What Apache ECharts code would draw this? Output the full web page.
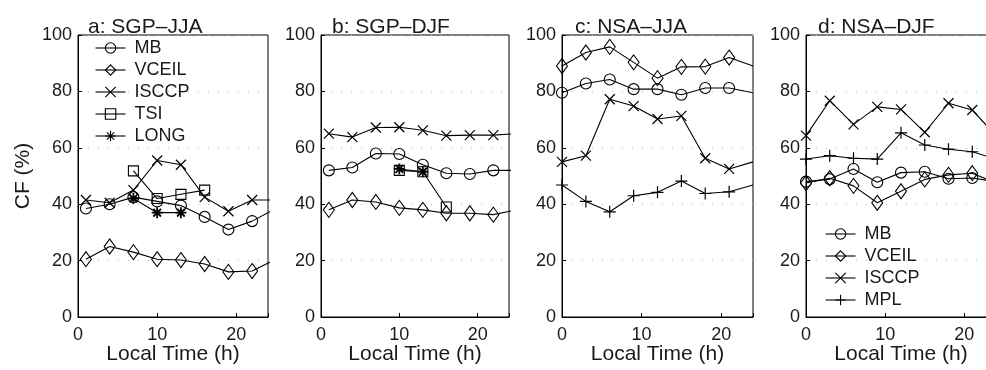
<!DOCTYPE html>
<html>
<head>
<meta charset="utf-8">
<script src="https://cdn.jsdelivr.net/npm/echarts@6/dist/echarts.min.js"></script>
<style>html,body{margin:0;padding:0;background:#fff}#c{width:986px;height:370px}</style>
</head>
<body>
<div id="c"></div>
<script>
// ---- data ----
const hoursSGP = [1, 4, 7, 10, 13, 16, 19, 22];
const hoursNSA = [0, 3, 6, 9, 12, 15, 18, 21];
const xTicks = [0, 10, 20];
const yTicks = [0, 20, 40, 60, 80, 100];
const panelTitles = ['a: SGP\u2013JJA', 'b: SGP\u2013DJF', 'c: NSA\u2013JJA', 'd: NSA\u2013DJF'];

const a_MB    = [38.5, 40, 42.5, 41, 39.5, 35.5, 31, 34];
const a_VCEIL = [20.5, 25, 23, 20.5, 20.2, 18.8, 16, 16.3];
const a_ISCCP = [41.5, 40.5, 45, 55.5, 54, 42.5, 37.5, 41.5];
const a_TSI_h = [7, 10, 13, 16];
const a_TSI   = [51.8, 42, 43.5, 45];
const a_LONG_h = [7, 10, 13];
const a_LONG  = [42, 37, 37];

const b_MB    = [52, 53, 58, 57.8, 54, 51, 50.7, 52];
const b_VCEIL = [38, 41.5, 40.8, 38.7, 38, 36.8, 36.8, 36.3];
const b_ISCCP = [65, 63.8, 67.2, 67.3, 66.2, 64.3, 64.5, 64.5];
const b_TSI_h = [10, 13, 16];
const b_TSI   = [52, 51.5, 39];
const b_LONG_h = [10, 13];
const b_LONG  = [52.5, 51.5];

const c_MB    = [79.5, 82.8, 84.2, 80.8, 80.8, 78.8, 81.2, 81.2];
const c_VCEIL = [89, 93.8, 95.8, 90.3, 84.7, 88.7, 88.8, 92];
const c_ISCCP = [55, 57.2, 77.2, 74.8, 70.2, 71.3, 56.3, 52.5];
const c_MPL   = [46.8, 41, 37.3, 43, 44.2, 48.2, 43.8, 44.4];

const d_MB    = [48, 48.9, 52.5, 47.8, 51.2, 51.5, 49, 49.3];
const d_VCEIL = [47.5, 49.2, 46.5, 40.5, 44.6, 48.8, 50.4, 51];
const d_ISCCP = [64.3, 76.7, 68.3, 74.5, 73.6, 65.5, 75.8, 73.4];
const d_MPL   = [56, 57.2, 56.3, 56, 65.3, 61, 59.5, 58.6];

// ---- styles ----
const FONT = '"Liberation Sans", Arial, Helvetica, sans-serif';
const TXT = '#1a1a1a';
const SYM = {
  MB: {symbol: 'circle', size: 11, bw: 1.1},
  VCEIL: {symbol: 'diamond', size: [11, 15], bw: 1.1},
  ISCCP: {symbol: 'path://M0,0 L100,100 M100,0 L0,100', size: 10, bw: 1.2},
  TSI: {symbol: 'rect', size: 10, bw: 1.1},
  LONG: {symbol: 'path://M50,0 L50,100 M0,50 L100,50 M15,15 L85,85 M85,15 L15,85', size: 11, bw: 1.8},
  MPL: {symbol: 'path://M50,0 L50,100 M0,50 L100,50', size: 12, bw: 1.2}
};

function pts(hours, vals, period) {
  const d = hours.map((h, i) => [h, vals[i]]);
  if (period) d.push({value: [hours[0] + period, vals[0]], symbol: 'none'});
  return d;
}
function mk(name, idx, data) {
  const s = SYM[name];
  return {
    type: 'line', name: name, xAxisIndex: idx, yAxisIndex: idx, data: data,
    symbol: s.symbol, symbolSize: s.size, showAllSymbol: true, clip: true,
    lineStyle: {color: '#000', width: 1.1},
    itemStyle: {color: 'transparent', borderColor: '#000', borderWidth: s.bw},
    emphasis: {disabled: true}, silent: true, z: 3
  };
}

const series = [
  mk('MB', 0, pts(hoursSGP, a_MB, 24)),
  mk('VCEIL', 0, pts(hoursSGP, a_VCEIL, 24)),
  mk('ISCCP', 0, pts(hoursSGP, a_ISCCP, 24)),
  mk('TSI', 0, pts(a_TSI_h, a_TSI)),
  mk('LONG', 0, pts(a_LONG_h, a_LONG)),
  mk('MB', 1, pts(hoursSGP, b_MB, 24)),
  mk('VCEIL', 1, pts(hoursSGP, b_VCEIL, 24)),
  mk('ISCCP', 1, pts(hoursSGP, b_ISCCP, 24)),
  mk('TSI', 1, pts(b_TSI_h, b_TSI)),
  mk('LONG', 1, pts(b_LONG_h, b_LONG)),
  mk('MB', 2, pts(hoursNSA, c_MB, 24)),
  mk('VCEIL', 2, pts(hoursNSA, c_VCEIL, 24)),
  mk('ISCCP', 2, pts(hoursNSA, c_ISCCP, 24)),
  mk('MPL', 2, pts(hoursNSA, c_MPL, 24)),
  mk('MB', 3, pts(hoursNSA, d_MB, 24)),
  mk('VCEIL', 3, pts(hoursNSA, d_VCEIL, 24)),
  mk('ISCCP', 3, pts(hoursNSA, d_ISCCP, 24)),
  mk('MPL', 3, pts(hoursNSA, d_MPL, 24))
];

const gridPos = [
  {left: 78, width: 190}, {left: 321, width: 188}, {left: 562, width: 191}, {left: 806, width: 190}
];
const grids = gridPos.map(g => ({
  left: g.left, width: g.width, top: 35, height: 282, containLabel: false,
  outerBoundsMode: 'none',
  show: true, borderColor: '#000', borderWidth: 1, backgroundColor: 'transparent'
}));

const xAxes = gridPos.map((g, i) => ({
  type: 'value', gridIndex: i, min: 0, max: 24, interval: 10,
  name: 'Local Time (h)', nameLocation: 'middle', nameGap: 27, nameMoveOverlap: false,
  nameTextStyle: {fontFamily: FONT, fontSize: 21, color: TXT},
  axisLine: {show: true, lineStyle: {color: '#000', width: 1}},
  axisTick: {show: true, inside: true, length: 4, lineStyle: {color: '#000'}},
  axisLabel: {fontFamily: FONT, fontSize: 18, color: TXT, margin: 9,
    formatter: v => (xTicks.indexOf(v) >= 0 ? String(v) : '')},
  splitLine: {show: false}
}));
const yAxes = gridPos.map((g, i) => ({
  type: 'value', gridIndex: i, min: 0, max: 100, interval: 20,
  name: i === 0 ? 'CF (%)' : '', nameLocation: 'middle', nameGap: 44, nameMoveOverlap: false,
  nameTextStyle: {fontFamily: FONT, fontSize: 21, color: TXT},
  axisLine: {show: true, lineStyle: {color: '#000', width: 1}},
  axisTick: {show: true, inside: true, length: 4, lineStyle: {color: '#000'}},
  axisLabel: {fontFamily: FONT, fontSize: 18, color: TXT, margin: 6,
    formatter: v => (yTicks.indexOf(v) >= 0 ? String(v) : '')},
  splitLine: {show: true, lineStyle: {color: '#b5b5b5', width: 1, type: [1, 9]}}
}));

const titles = panelTitles.map((t, i) => ({
  text: t, left: [83, 327, 570, 813][i], top: 12,
  textStyle: {fontFamily: FONT, fontSize: 21, fontWeight: 'normal', color: TXT}
}));

const legendCommon = {
  orient: 'vertical', itemWidth: 30, itemHeight: 13, itemGap: 4, padding: 0,
  selectedMode: false,
  textStyle: {fontFamily: FONT, fontSize: 18, color: TXT, padding: [0, 0, 0, 4], lineHeight: 18},
  itemStyle: {borderWidth: 1.1},
  lineStyle: {width: 1.1}
};
const legends = [
  Object.assign({}, legendCommon, {left: 95, top: 39, data: ['MB', 'VCEIL', 'ISCCP', 'TSI', 'LONG']}),
  Object.assign({}, legendCommon, {left: 825, top: 225, data: ['MB', 'VCEIL', 'ISCCP', 'MPL']})
];

const chart = echarts.init(document.getElementById('c'), null, {renderer: 'canvas'});
chart.setOption({
  animation: false,
  backgroundColor: '#fff',
  title: titles,
  legend: legends,
  grid: grids,
  xAxis: xAxes,
  yAxis: yAxes,
  series: series
});
</script>
</body>
</html>
